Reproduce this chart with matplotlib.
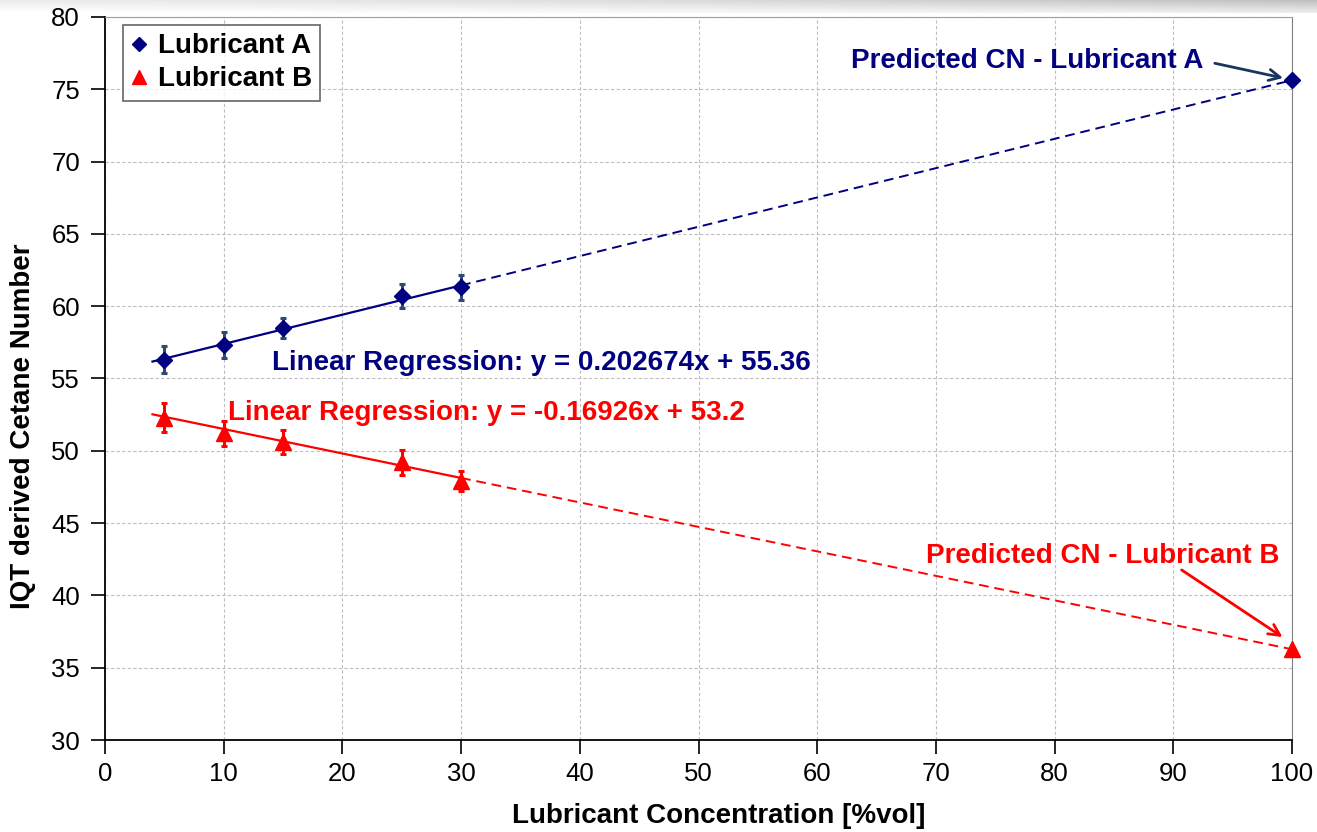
import numpy as np
import matplotlib
matplotlib.use("Agg")
import matplotlib.pyplot as plt

plt.rcParams['font.family'] = ['Liberation Sans', 'DejaVu Sans']

# Measured blends
conc = [5, 10, 15, 25, 30]
cn_a = [56.3, 57.3, 58.5, 60.7, 61.3]
err_a = [0.95, 0.9, 0.7, 0.85, 0.85]
cn_b = [52.3, 51.2, 50.6, 49.2, 47.9]
err_b = [1.0, 0.85, 0.85, 0.85, 0.7]

# Linear fits and predictions for the neat lubricants
slope_a, icpt_a = 0.202674, 55.36
slope_b, icpt_b = -0.16926, 53.2
pred_x = 100
pred_a = slope_a * pred_x + icpt_a
pred_b = slope_b * pred_x + icpt_b

fit_start = 4
x_ticks = list(range(0, 101, 10))
y_ticks = list(range(30, 81, 5))

NAVY = '#000080'
ERR_A = '#2E4A6E'
RED = '#FF0000'
ARROW_A = '#17375E'
LABEL_SIZE = 20

fig = plt.figure(figsize=(13.17, 8.32), dpi=100)

# shaded strip along the top edge
band = fig.add_axes([0, 1 - 13 / 832, 1, 13 / 832])
gx = np.linspace(0, 1, 300)
gy = np.linspace(0, 1, 20)
GX, GY = np.meshgrid(gx, gy)
shade = 0.95 - 0.17 * GX ** 1.5 * (1 - 0.6 * GY) - 0.03 * (1 - GY)
shade = shade + 0.05 * GY
band.imshow(shade, cmap='gray', vmin=0, vmax=1, aspect='auto', extent=[0, 1, 0, 1])
band.axis('off')

ax = fig.add_axes([105 / 1317, 92 / 832, (1292 - 105) / 1317, (740 - 17) / 832])
ax.set_xlim(0, 100)
ax.set_ylim(30, 80)
ax.set_xticks(x_ticks)
ax.set_yticks(y_ticks)
ax.grid(True, color='#BFBFBF', linestyle=(0, (3, 2)), linewidth=0.8)
ax.set_axisbelow(True)
for side in ('left', 'bottom'):
    ax.spines[side].set_color('black')
    ax.spines[side].set_linewidth(1.3)
ax.spines['right'].set_color('#808080')
ax.spines['top'].set_color('#A0A0A0')
ax.spines['top'].set_linestyle((0, (2, 1)))
ax.tick_params(axis='both', direction='out', length=10, width=1.2,
               labelsize=18.5, pad=6)
ax.tick_params(axis='y', pad=8)

# regression lines: solid over the measured range, dashed to the prediction
xs = np.array([fit_start, conc[-1]])
xd = np.array([conc[-1], pred_x])
ax.plot(xs, slope_a * xs + icpt_a, color=NAVY, lw=1.6, zorder=3)
ax.plot(xd, slope_a * xd + icpt_a, color=NAVY, lw=1.4, ls=(0, (5, 3)), zorder=3)
ax.plot(xs, slope_b * xs + icpt_b, color=RED, lw=1.6, zorder=3)
ax.plot(xd, slope_b * xd + icpt_b, color=RED, lw=1.4, ls=(0, (5, 3)), zorder=3)

ax.errorbar(conc, cn_a, yerr=err_a, fmt='none', ecolor=ERR_A, elinewidth=2.2,
            capsize=2.2, capthick=2.2, zorder=4)
ax.errorbar(conc, cn_b, yerr=err_b, fmt='none', ecolor=RED, elinewidth=2.2,
            capsize=2.2, capthick=2.2, zorder=4)
ax.plot(conc, cn_a, 'D', color=NAVY, ms=8.5, zorder=5, label='Lubricant A')
ax.plot(conc, cn_b, '^', color=RED, ms=11, zorder=5, label='Lubricant B')
ax.plot([pred_x], [pred_a], 'D', color=NAVY, ms=8.5, zorder=5, clip_on=False)
ax.plot([pred_x], [pred_b], '^', color=RED, ms=11, zorder=5, clip_on=False)

ax.text(14.05, 56.06, f'Linear Regression: y = {slope_a}x + {icpt_a}', color=NAVY,
        fontsize=LABEL_SIZE, fontweight='bold', va='center', ha='left')
ax.text(10.35, 52.6, f'Linear Regression: y = {slope_b}x + {icpt_b}', color=RED,
        fontsize=LABEL_SIZE, fontweight='bold', va='center', ha='left')

ax.text(92.5, 76.94, 'Predicted CN - Lubricant A', color=NAVY, fontsize=LABEL_SIZE,
        fontweight='bold', ha='right', va='center')
ax.annotate('', xy=(99.25, 75.78), xytext=(93.5, 76.8),
            arrowprops=dict(arrowstyle='->', color=ARROW_A, lw=2,
                            mutation_scale=20, shrinkA=0, shrinkB=0))
ax.text(98.9, 42.71, 'Predicted CN - Lubricant B', color=RED, fontsize=LABEL_SIZE,
        fontweight='bold', ha='right', va='center')
ax.annotate('', xy=(99.2, 37.12), xytext=(90.7, 41.76),
            arrowprops=dict(arrowstyle='->', color=RED, lw=2,
                            mutation_scale=20, shrinkA=0, shrinkB=0))

ax.set_xlabel('Lubricant Concentration [%vol]', fontsize=LABEL_SIZE,
              fontweight='bold')
ax.xaxis.set_label_coords(0.5 + 20 / 1187, -63 / 723)
ax.set_ylabel('IQT derived Cetane Number', fontsize=LABEL_SIZE, fontweight='bold')
ax.yaxis.set_label_coords(-69 / 1187, 0.5 - 48 / 723)

leg = ax.legend(loc='upper left', bbox_to_anchor=(0.015, 0.989), frameon=True,
                fancybox=False, edgecolor='#404040', handlelength=0.6,
                handletextpad=0.35, borderpad=0.3, labelspacing=0.25,
                borderaxespad=0, prop={'weight': 'bold', 'size': LABEL_SIZE})
leg.get_frame().set_linewidth(1.2)
leg.legend_handles[0].set_markersize(7.5)
leg.legend_handles[1].set_markersize(10.5)

fig.savefig('out.png', dpi=100)
